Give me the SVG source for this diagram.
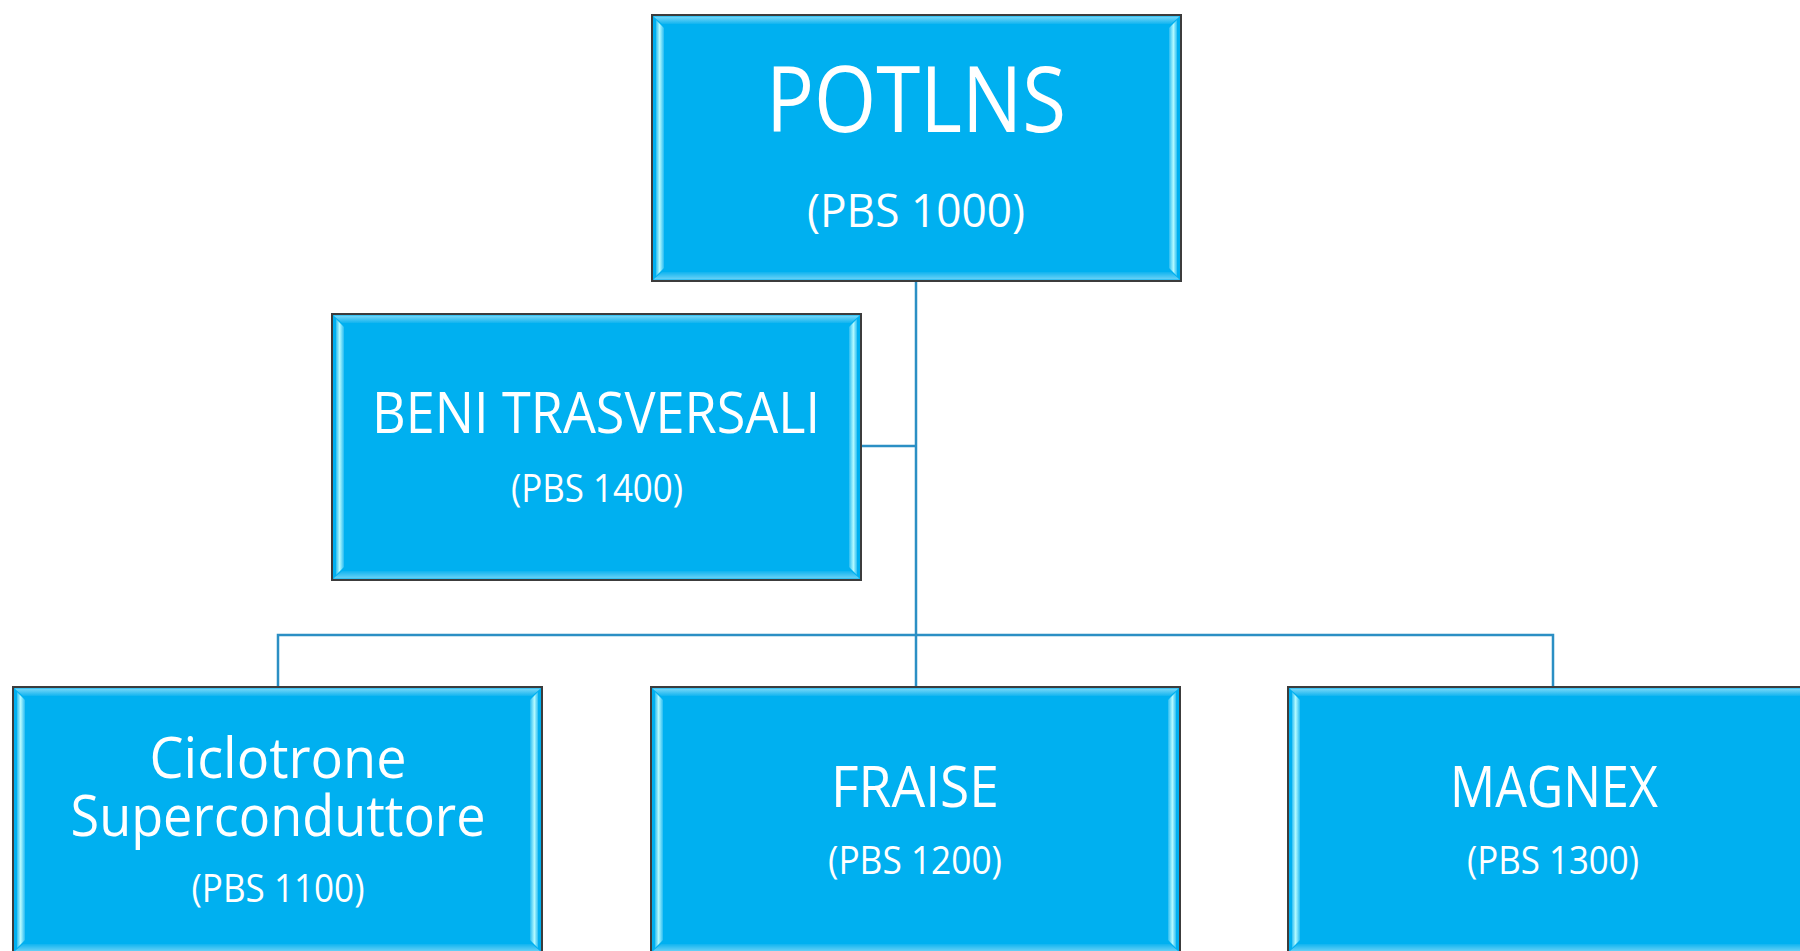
<svg xmlns="http://www.w3.org/2000/svg" xmlns:xlink="http://www.w3.org/1999/xlink" width="1800" height="951" viewBox="0 0 1800 951">
<style>
.t{font-family:"Open Sans","Noto Sans","DejaVu Sans",sans-serif;fill:#ffffff;text-anchor:middle}
.h{font-size:57px}
.s{font-size:38px}
.c{fill:none;stroke:#2b8fc4;stroke-width:2.5}
</style>
<defs>
<linearGradient id="gl" x1="0" y1="0" x2="1" y2="0">
<stop offset="0" stop-color="#30bff2"/>
<stop offset="0.45" stop-color="#b4faff"/>
<stop offset="1" stop-color="#28bcf2"/>
</linearGradient>
<linearGradient id="gr" x1="1" y1="0" x2="0" y2="0">
<stop offset="0" stop-color="#30bff2"/>
<stop offset="0.45" stop-color="#b4faff"/>
<stop offset="1" stop-color="#28bcf2"/>
</linearGradient>
<linearGradient id="gt" x1="0" y1="0" x2="0" y2="1">
<stop offset="0" stop-color="#7ad8f8"/>
<stop offset="1" stop-color="#10b4f0"/>
</linearGradient>
<linearGradient id="gb" x1="0" y1="1" x2="0" y2="0">
<stop offset="0" stop-color="#6ad2f6"/>
<stop offset="1" stop-color="#10b4f0"/>
</linearGradient>
<g id="bx">
<rect x="0" y="0" width="529" height="266" fill="#00b0f0" stroke="#3c3c3c" stroke-width="2"/>
<polygon points="1.5,1.5 527.5,1.5 519,9 10,9" fill="url(#gt)"/>
<polygon points="1.5,264.5 527.5,264.5 519,257 10,257" fill="url(#gb)"/>
<polygon points="4,5 12,13 12,253 4,261" fill="url(#gl)"/>
<polygon points="525,5 517,13 517,253 525,261" fill="url(#gr)"/>
</g>
</defs>
<g id="connectors">
<path class="c" d="M916,281 V635"/>
<path class="c" d="M860,446 H916"/>
<path class="c" d="M278,687 V635 H1553 V687"/>
<path class="c" d="M916,635 V687"/>
</g>
<g id="node-potlns">
<use xlink:href="#bx" x="652" y="15"/>
<text class="t" x="916" y="132" font-size="92" textLength="300" lengthAdjust="spacingAndGlyphs">POTLNS</text>
<text class="t" x="916" y="227" font-size="45" textLength="218" lengthAdjust="spacingAndGlyphs">(PBS 1000)</text>
</g>
<g id="node-beni">
<use xlink:href="#bx" x="332" y="314"/>
<text class="t h" x="596" y="433" textLength="448" lengthAdjust="spacingAndGlyphs">BENI TRASVERSALI</text>
<text class="t s" x="597" y="502" textLength="172" lengthAdjust="spacingAndGlyphs">(PBS 1400)</text>
</g>
<g id="node-ciclotrone">
<use xlink:href="#bx" x="13" y="687"/>
<text class="t h"><tspan x="278" y="778" textLength="257" lengthAdjust="spacingAndGlyphs">Ciclotrone</tspan><tspan x="278" y="836" textLength="415" lengthAdjust="spacingAndGlyphs">Superconduttore</tspan></text>
<text class="t s" x="278" y="902" textLength="173" lengthAdjust="spacingAndGlyphs">(PBS 1100)</text>
</g>
<g id="node-fraise">
<use xlink:href="#bx" x="651" y="687"/>
<text class="t h" x="915" y="807" textLength="168" lengthAdjust="spacingAndGlyphs">FRAISE</text>
<text class="t s" x="915" y="874" textLength="174" lengthAdjust="spacingAndGlyphs">(PBS 1200)</text>
</g>
<g id="node-magnex">
<use xlink:href="#bx" x="1288" y="687"/>
<text class="t h" x="1554" y="807" textLength="208" lengthAdjust="spacingAndGlyphs">MAGNEX</text>
<text class="t s" x="1553" y="874" textLength="172" lengthAdjust="spacingAndGlyphs">(PBS 1300)</text>
</g>
</svg>
